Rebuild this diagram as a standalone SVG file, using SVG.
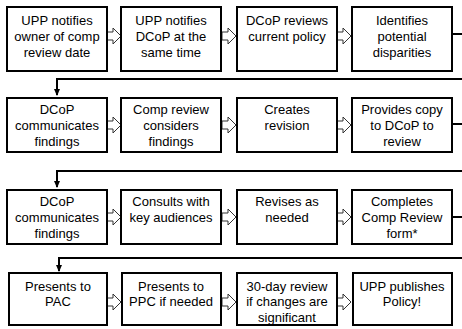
<svg xmlns="http://www.w3.org/2000/svg" width="462" height="329" viewBox="0 0 462 329">
<defs>
<style>
.box{fill:#fff;stroke:#000;stroke-width:2}
.t{font-family:"Liberation Sans",Arial,sans-serif;font-size:13px;fill:#000;text-anchor:middle}
.blk{fill:#fff;stroke:#333;stroke-width:1}
.con{fill:none;stroke:#000;stroke-width:2}
</style>
<marker id="ah" markerUnits="userSpaceOnUse" markerWidth="8" markerHeight="8" refX="6" refY="4" orient="auto">
<path d="M0,1 L7,4 L0,7 Z" fill="#000"/>
</marker>
<path id="ba" d="M0,-4 H6 V-8 L14,0 L6,8 V4 H0 Z"/>
</defs>
<rect width="462" height="329" fill="#fff"/>
<g id="connectors">
<path class="con" d="M452,34 H470 V79 H57 V95" marker-end="url(#ah)"/>
<path class="con" d="M452,124 H470 V171 H57 V187" marker-end="url(#ah)"/>
<path class="con" d="M452,217 H470 V258 H59 V271" marker-end="url(#ah)"/>
<use href="#ba" class="blk" x="107" y="36"/>
<use href="#ba" class="blk" x="222" y="36"/>
<use href="#ba" class="blk" x="337" y="36"/>
<use href="#ba" class="blk" x="107" y="125"/>
<use href="#ba" class="blk" x="222" y="125"/>
<use href="#ba" class="blk" x="337" y="125"/>
<use href="#ba" class="blk" x="107" y="217"/>
<use href="#ba" class="blk" x="222" y="217"/>
<use href="#ba" class="blk" x="337" y="217"/>
<use href="#ba" class="blk" x="107" y="302"/>
<use href="#ba" class="blk" x="222" y="302"/>
<use href="#ba" class="blk" x="337" y="302"/>
</g>
<g id="n1"><rect class="box" x="7" y="7" width="100" height="64"/><text class="t"><tspan x="57" y="24.5">UPP notifies</tspan><tspan x="57" y="40.5">owner of comp</tspan><tspan x="57" y="56.5">review date</tspan></text></g>
<g id="n2"><rect class="box" x="121" y="7" width="100" height="64"/><text class="t"><tspan x="171" y="24.5">UPP notifies</tspan><tspan x="171" y="40.5">DCoP at the</tspan><tspan x="171" y="56.5">same time</tspan></text></g>
<g id="n3"><rect class="box" x="237" y="7" width="100" height="64"/><text class="t"><tspan x="287" y="24.5">DCoP reviews</tspan><tspan x="287" y="40.5">current policy</tspan></text></g>
<g id="n4"><rect class="box" x="352" y="7" width="100" height="64"/><text class="t"><tspan x="402" y="24.5">Identifies</tspan><tspan x="402" y="40.5">potential</tspan><tspan x="402" y="56.5">disparities</tspan></text></g>
<g id="n5"><rect class="box" x="7" y="98" width="100" height="54"/><text class="t"><tspan x="57" y="114">DCoP</tspan><tspan x="57" y="130">communicates</tspan><tspan x="57" y="146">findings</tspan></text></g>
<g id="n6"><rect class="box" x="121" y="98" width="100" height="54"/><text class="t"><tspan x="171" y="114">Comp review</tspan><tspan x="171" y="130">considers</tspan><tspan x="171" y="146">findings</tspan></text></g>
<g id="n7"><rect class="box" x="237" y="98" width="100" height="54"/><text class="t"><tspan x="287" y="114">Creates</tspan><tspan x="287" y="130">revision</tspan></text></g>
<g id="n8"><rect class="box" x="352" y="98" width="100" height="54"/><text class="t"><tspan x="402" y="114">Provides copy</tspan><tspan x="402" y="130">to DCoP to</tspan><tspan x="402" y="146">review</tspan></text></g>
<g id="n9"><rect class="box" x="7" y="190" width="100" height="54"/><text class="t"><tspan x="57" y="205.5">DCoP</tspan><tspan x="57" y="222">communicates</tspan><tspan x="57" y="238">findings</tspan></text></g>
<g id="n10"><rect class="box" x="121" y="190" width="100" height="54"/><text class="t"><tspan x="171" y="205.5">Consults with</tspan><tspan x="171" y="222">key audiences</tspan></text></g>
<g id="n11"><rect class="box" x="237" y="190" width="100" height="54"/><text class="t"><tspan x="287" y="205.5">Revises as</tspan><tspan x="287" y="222">needed</tspan></text></g>
<g id="n12"><rect class="box" x="352" y="190" width="100" height="54"/><text class="t"><tspan x="402" y="205.5">Completes</tspan><tspan x="402" y="222">Comp Review</tspan><tspan x="402" y="238">form*</tspan></text></g>
<g id="n13"><rect class="box" x="9" y="273" width="98" height="52"/><text class="t"><tspan x="58" y="290.5">Presents to</tspan><tspan x="58" y="306">PAC</tspan></text></g>
<g id="n14"><rect class="box" x="122" y="273" width="99" height="52"/><text class="t"><tspan x="171" y="290.5">Presents to</tspan><tspan x="171" y="306">PPC if needed</tspan></text></g>
<g id="n15"><rect class="box" x="237" y="273" width="100" height="52"/><text class="t"><tspan x="287" y="290.5">30-day review</tspan><tspan x="287" y="306">if changes are</tspan><tspan x="287" y="321.5">significant</tspan></text></g>
<g id="n16"><rect class="box" x="353" y="273" width="99" height="52"/><text class="t"><tspan x="402" y="290.5">UPP publishes</tspan><tspan x="402" y="306">Policy!</tspan></text></g>
</svg>
